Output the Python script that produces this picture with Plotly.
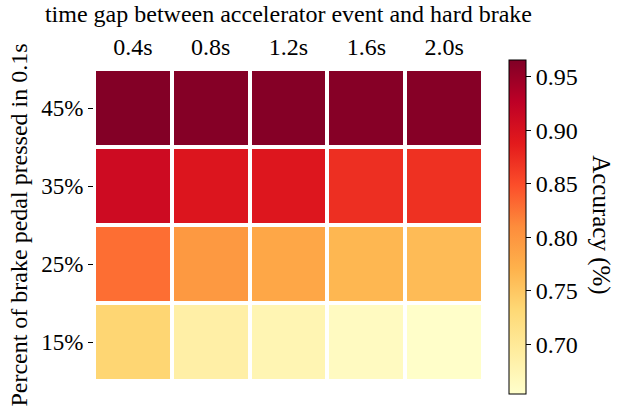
import plotly.graph_objects as go

time_gaps = ["0.4s", "0.8s", "1.2s", "1.6s", "2.0s"]
brake_pct = ["15%", "25%", "35%", "45%"]
acc_15 = [0.735, 0.688, 0.676, 0.664, 0.657]
acc_25 = [0.829, 0.797, 0.783, 0.766, 0.762]
acc_35 = [0.911, 0.895, 0.894, 0.872, 0.871]
acc_45 = [0.964, 0.963, 0.963, 0.962, 0.962]
cb_ticks = [0.70, 0.75, 0.80, 0.85, 0.90, 0.95]

ylorrd = ["#ffffcc", "#ffeda0", "#fed976", "#feb24c", "#fd8d3c",
          "#fc4e2a", "#e31a1c", "#bd0026", "#800026"]
colorscale = [[i / 8, c] for i, c in enumerate(ylorrd)]

font_family = "Liberation Serif"

fig = go.Figure()
fig.add_trace(go.Heatmap(
    x=time_gaps,
    y=brake_pct,
    z=[acc_15, acc_25, acc_35, acc_45],
    colorscale=colorscale,
    zmin=0.654, zmax=0.966,
    xgap=4, ygap=4,
    colorbar=dict(
        x=1.067, xanchor="left", xref="paper", xpad=0,
        y=0.495, yanchor="middle", ypad=0,
        lenmode="pixels", len=334,
        thicknessmode="pixels", thickness=17,
        outlinecolor="black", outlinewidth=1,
        tickvals=cb_ticks,
        ticktext=[f"{v:.2f}" for v in cb_ticks],
        ticks="outside", ticklen=5, tickcolor="black",
        tickfont=dict(family=font_family, size=24, color="black"),
    ),
))

fig.update_layout(
    width=633, height=409,
    margin=dict(l=94, r=150, t=69, b=28, autoexpand=False),
    paper_bgcolor="white", plot_bgcolor="white",
    font=dict(family=font_family, color="black", size=24),
    xaxis=dict(
        side="top",
        showgrid=False, zeroline=False, ticks="", ticklabelstandoff=8,
        tickfont=dict(family=font_family, size=24, color="black"),
        title=dict(text="time gap between accelerator event and hard brake",
                   font=dict(family=font_family, size=24, color="black"),
                   standoff=4),
    ),
    yaxis=dict(
        showgrid=False, zeroline=False, ticks="outside", ticklen=5,
        tickcolor="black",
        tickfont=dict(family=font_family, size=23, color="black"),
        title=dict(text="Percent of brake pedal pressed in 0.1s",
                   font=dict(family=font_family, size=24, color="black"), standoff=6),
    ),
    annotations=[
        dict(
            text="Accuracy (%)", textangle=90, showarrow=False,
            xref="paper", yref="paper", x=1.303, y=0.5,
            xanchor="center", yanchor="middle",
            font=dict(family=font_family, size=25, color="black"),
        ),
    ],
)

fig.write_html("out.html", post_script="document.body.style.margin='0';",
               config={"displayModeBar": False})
